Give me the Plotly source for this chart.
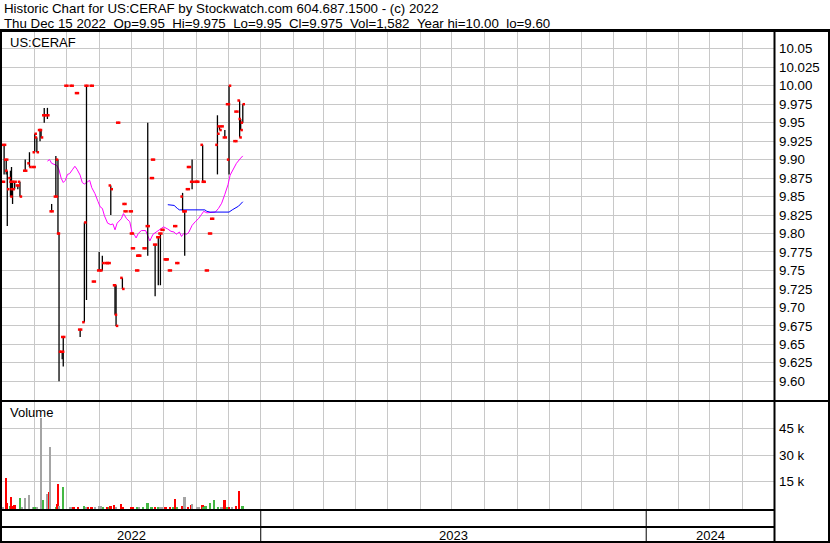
import plotly.graph_objects as go
import pandas as pd

# ---------------- data ----------------
dates = ["2022-05-02","2022-05-03","2022-05-05","2022-05-06","2022-05-09","2022-05-10","2022-05-11","2022-05-13",
         "2022-05-16","2022-05-18","2022-05-23","2022-05-27","2022-05-31","2022-06-01","2022-06-03","2022-06-06",
         "2022-06-07","2022-06-10","2022-06-13","2022-06-17","2022-06-21","2022-06-23","2022-06-24","2022-06-27",
         "2022-06-28","2022-07-01","2022-07-06","2022-07-11","2022-07-14","2022-07-18","2022-07-20","2022-07-25",
         "2022-07-27","2022-08-01","2022-08-04","2022-08-08","2022-08-10","2022-08-12","2022-08-16","2022-08-17",
         "2022-08-19","2022-08-23","2022-08-25","2022-08-26","2022-08-31","2022-09-01","2022-09-02","2022-09-06",
         "2022-09-07","2022-09-08","2022-09-13","2022-09-16","2022-09-20","2022-09-21","2022-09-23","2022-09-26",
         "2022-09-28","2022-09-30","2022-10-03","2022-10-04","2022-10-07","2022-10-12","2022-10-14","2022-10-19",
         "2022-10-21","2022-10-24","2022-10-25","2022-10-28","2022-11-01","2022-11-02","2022-11-07","2022-11-08",
         "2022-11-11","2022-11-14","2022-11-16","2022-11-21","2022-11-23","2022-11-25","2022-11-28","2022-12-01",
         "2022-12-02","2022-12-08","2022-12-09","2022-12-12","2022-12-13","2022-12-15"]
opens  = [9.87,9.92,9.90,9.885,9.875,9.87,9.86,9.86,9.865,9.87,9.885,9.895,9.89,9.91,9.93,9.94,
          9.94,9.96,9.96,9.83,9.85,9.90,9.80,9.64,9.66,10.00,10.00,9.99,9.67,9.68,10.00,10.00,
          9.735,9.75,9.75,9.76,9.76,9.865,9.73,9.73,9.95,9.74,9.84,9.83,9.83,9.80,9.78,9.75,
          9.77,9.77,9.78,9.81,9.875,9.90,9.785,9.795,9.80,9.805,9.765,9.765,9.75,9.81,9.76,9.85,
          9.83,9.86,9.89,9.87,9.87,9.87,9.92,9.87,9.75,9.80,9.82,9.92,9.945,9.945,9.93,9.975,
          9.90,9.925,9.965,9.98,9.955,9.95]
highs  = [9.87,9.92,9.90,9.885,9.885,9.89,9.87,9.87,9.865,9.87,9.90,9.91,9.89,9.935,9.93,9.94,
          9.94,9.97,9.97,9.84,9.905,9.90,9.80,9.64,9.66,10.00,10.00,9.99,9.67,9.815,10.00,10.00,
          9.735,9.775,9.77,9.76,9.76,9.865,9.73,9.73,9.95,9.74,9.84,9.83,9.83,9.80,9.78,9.75,
          9.77,9.77,9.78,9.95,9.875,9.90,9.785,9.795,9.80,9.805,9.765,9.765,9.75,9.81,9.76,9.855,
          9.83,9.86,9.89,9.90,9.87,9.87,9.92,9.87,9.75,9.80,9.82,9.96,9.945,9.945,9.94,9.975,
          10.00,9.925,9.965,9.98,9.955,9.975]
lows   = [9.87,9.88,9.88,9.81,9.85,9.85,9.84,9.86,9.86,9.85,9.885,9.89,9.89,9.91,9.91,9.925,
          9.93,9.95,9.955,9.83,9.85,9.80,9.60,9.63,9.62,10.00,10.00,9.99,9.66,9.68,9.71,10.00,
          9.735,9.75,9.75,9.76,9.76,9.825,9.69,9.675,9.95,9.725,9.84,9.83,9.83,9.80,9.78,9.75,
          9.77,9.77,9.78,9.77,9.875,9.90,9.715,9.73,9.73,9.805,9.765,9.765,9.75,9.81,9.76,9.83,
          9.77,9.86,9.89,9.86,9.87,9.87,9.87,9.87,9.75,9.80,9.82,9.88,9.94,9.945,9.93,9.975,
          9.88,9.925,9.965,9.93,9.94,9.95]
closes = [9.87,9.92,9.90,9.86,9.85,9.87,9.87,9.87,9.865,9.85,9.885,9.89,9.89,9.935,9.91,9.94,
          9.93,9.96,9.96,9.83,9.85,9.80,9.64,9.64,9.66,10.00,10.00,9.99,9.67,9.815,10.00,10.00,
          9.735,9.75,9.76,9.76,9.76,9.86,9.69,9.675,9.95,9.725,9.84,9.83,9.83,9.80,9.78,9.75,
          9.77,9.77,9.78,9.81,9.875,9.90,9.785,9.795,9.80,9.805,9.765,9.765,9.75,9.81,9.76,9.83,
          9.83,9.86,9.89,9.87,9.87,9.87,9.87,9.87,9.75,9.80,9.82,9.935,9.94,9.945,9.93,9.975,
          10.00,9.925,9.965,9.93,9.94,9.975]

vol_dates = ["2022-05-02","2022-05-05","2022-05-06","2022-05-09","2022-05-10","2022-05-12","2022-05-13","2022-05-18",
             "2022-05-20","2022-05-23","2022-05-27","2022-05-31","2022-06-01","2022-06-03","2022-06-07","2022-06-09",
             "2022-06-13","2022-06-15","2022-06-16","2022-06-21","2022-06-22","2022-06-23","2022-06-24","2022-06-28",
             "2022-07-05","2022-07-07","2022-07-08","2022-07-12","2022-07-18","2022-07-20","2022-07-22","2022-07-25",
             "2022-07-28","2022-08-01","2022-08-03","2022-08-05","2022-08-09","2022-08-11","2022-08-12","2022-08-15",
             "2022-08-17","2022-08-22","2022-08-24","2022-08-31","2022-09-02","2022-09-06","2022-09-08","2022-09-12",
             "2022-09-16","2022-09-19","2022-09-20","2022-09-23","2022-09-26","2022-09-28","2022-09-30","2022-10-03",
             "2022-10-07","2022-10-10","2022-10-12","2022-10-14","2022-10-19","2022-10-21","2022-10-24","2022-10-27",
             "2022-10-28","2022-11-02","2022-11-04","2022-11-07","2022-11-08","2022-11-10","2022-11-14","2022-11-18",
             "2022-11-22","2022-11-25","2022-11-28","2022-11-30","2022-12-02","2022-12-05","2022-12-09","2022-12-12",
             "2022-12-15"]
volumes = [1000,17300,2900,1400,6500,1400,2000,5900,
           600,5900,7600,600,1000,600,50600,4800,
           8100,9300,34700,1000,2500,13700,1400,12100,
           600,600,600,1000,1400,600,600,600,
           600,1400,1400,600,600,1000,1400,2000,
           600,2500,600,1000,600,600,600,600,
           3100,600,600,600,1000,1000,600,600,
           600,1000,5300,600,1400,6500,600,2000,
           2500,1000,1000,2000,1000,1400,3100,4800,
           1000,600,4800,600,600,600,1400,9800,
           1582]
vol_change = ["flat","down","down","up","down","down","down","up",
              "flat","flat","flat","flat","up","flat","flat","up",
              "flat","down","flat","up","down","down","flat","up",
              "flat","flat","down","down","up","flat","down","down",
              "flat","flat","flat","up","down","up","down","down",
              "flat","down","down","down","down","up","flat","up",
              "up","up","up","down","up","flat","flat","down",
              "down","up","down","up","down","flat","down","down",
              "flat","flat","flat","down","up","up","up","up",
              "up","flat","down","up","down","flat","down","down",
              "up"]

ma_dates = ["2022-06-13","2022-06-15","2022-06-17","2022-06-20","2022-06-22","2022-06-24","2022-06-26","2022-06-28",
            "2022-06-30","2022-07-02","2022-07-04","2022-07-07","2022-07-09","2022-07-11","2022-07-14","2022-07-16",
            "2022-07-18","2022-07-21","2022-07-23","2022-07-25","2022-07-28","2022-07-31","2022-08-02","2022-08-04",
            "2022-08-06","2022-08-09","2022-08-12","2022-08-14","2022-08-16","2022-08-18","2022-08-22","2022-08-24",
            "2022-08-27","2022-08-30","2022-09-01","2022-09-03","2022-09-05","2022-09-07","2022-09-10","2022-09-14",
            "2022-09-16","2022-09-18","2022-09-21","2022-09-24","2022-09-28","2022-10-01","2022-10-05","2022-10-08",
            "2022-10-11","2022-10-13","2022-10-16","2022-10-18","2022-10-20","2022-10-23","2022-10-25","2022-10-28",
            "2022-10-31","2022-11-03","2022-11-06","2022-11-08","2022-11-11","2022-11-16","2022-11-19","2022-11-22",
            "2022-11-25","2022-11-28","2022-12-01","2022-12-03","2022-12-06","2022-12-09","2022-12-13","2022-12-15"]
ma_values = [9.898,9.900,9.895,9.893,9.892,9.886,9.875,9.869,
             9.872,9.880,9.881,9.887,9.891,9.887,9.879,9.869,
             9.867,9.870,9.872,9.862,9.854,9.843,9.836,9.834,
             9.824,9.814,9.812,9.813,9.805,9.814,9.820,9.827,
             9.820,9.816,9.802,9.799,9.794,9.800,9.804,9.804,
             9.798,9.790,9.799,9.802,9.807,9.809,9.806,9.803,
             9.802,9.799,9.802,9.796,9.800,9.799,9.802,9.811,
             9.816,9.820,9.826,9.830,9.828,9.828,9.829,9.834,
             9.841,9.853,9.866,9.879,9.888,9.895,9.902,9.905]

ma_long_dates = ["2022-10-05","2022-10-08","2022-10-11","2022-10-14","2022-10-16","2022-11-09","2022-11-11",
                 "2022-11-14","2022-12-02","2022-12-05","2022-12-08","2022-12-11","2022-12-15"]
ma_long_values = [9.839,9.839,9.838,9.834,9.832,9.832,9.830,
                  9.829,9.829,9.832,9.834,9.837,9.843]

price_ticks = [10.05,10.025,10.00,9.975,9.95,9.925,9.90,9.875,9.85,9.825,9.80,9.775,9.75,9.725,9.70,9.675,9.65,9.625,9.60]
price_tick_labels = ["10.05","10.025","10.00","9.975","9.95","9.925","9.90","9.875","9.85","9.825","9.80",
                     "9.775","9.75","9.725","9.70","9.675","9.65","9.625","9.60"]
vol_ticks = [15000, 30000, 45000]
vol_tick_labels = ["15 k", "30 k", "45 k"]

year_labels = ["2022", "2023", "2024"]
year_bounds = ["2022-05-01", "2023-01-01", "2024-01-01", "2024-05-01"]

title_line1 = "Historic Chart for US:CERAF by Stockwatch.com 604.687.1500 - (c) 2022"
title_line2 = "Thu Dec 15 2022  Op=9.95  Hi=9.975  Lo=9.95  Cl=9.975  Vol=1,582  Year hi=10.00  lo=9.60"

# ---------------- figure ----------------
W, H = 830, 543
FONT = "Liberation Sans, Arial, sans-serif"
FS = 13.3

def px(x):
    return x / W

def py(y):
    return 1 - y / H

dt = pd.to_datetime(dates)
tick_off = pd.Timedelta(hours=22)

seg_x, seg_y = [], []
for d, lo, hi in zip(dt, lows, highs):
    seg_x += [d, d, None]
    seg_y += [lo, hi, None]

fig = go.Figure()
fig.add_trace(go.Scatter(x=pd.to_datetime(ma_dates), y=ma_values, mode="lines",
                         line=dict(color="#ff00ff", width=1), xaxis="x", yaxis="y", hoverinfo="skip"))
fig.add_trace(go.Scatter(x=pd.to_datetime(ma_long_dates), y=ma_long_values, mode="lines",
                         line=dict(color="#0000ff", width=1), xaxis="x", yaxis="y", hoverinfo="skip"))
fig.add_trace(go.Scatter(x=seg_x, y=seg_y, mode="lines", line=dict(color="black", width=1.3),
                         xaxis="x", yaxis="y", hoverinfo="skip"))
fig.add_trace(go.Scatter(x=dt - tick_off, y=opens, mode="markers",
                         marker=dict(symbol="square", size=2.5, color="#ff0000", line=dict(width=0)),
                         xaxis="x", yaxis="y"))
fig.add_trace(go.Scatter(x=dt + tick_off, y=closes, mode="markers",
                         marker=dict(symbol="square", size=2.5, color="#ff0000", line=dict(width=0)),
                         xaxis="x", yaxis="y"))

change_colors = {"up": "#44b844", "down": "#ff0000", "flat": "#a4a4a4"}
fig.add_trace(go.Bar(x=pd.to_datetime(vol_dates), y=volumes,
                     marker=dict(color=[change_colors[c] for c in vol_change], line=dict(width=0)),
                     width=1.6 * 86400000, xaxis="x2", yaxis="y2"))

grid = "#c8c8c8"
x_dom = [px(2), px(774)]
xcommon = dict(type="date", range=[year_bounds[0], year_bounds[-1]], domain=x_dom, showgrid=True,
               gridcolor=grid, gridwidth=1, dtick="M1", tick0=year_bounds[0], showticklabels=False,
               ticks="", zeroline=False, showline=False)

fig.update_layout(
    width=W, height=H, margin=dict(l=0, r=0, t=0, b=0),
    paper_bgcolor="white", plot_bgcolor="white", showlegend=False, bargap=0,
    xaxis=dict(**xcommon, anchor="y"),
    xaxis2=dict(**xcommon, anchor="y2", matches="x"),
    yaxis=dict(domain=[py(400), py(32)], range=[9.5747, 10.0727], side="right", anchor="x",
               tickvals=price_ticks, ticktext=price_tick_labels, showgrid=True, gridcolor=grid,
               gridwidth=1, ticks="", zeroline=False, showline=False, ticklabelstandoff=4,
               tickfont=dict(family=FONT, size=FS, color="#000000")),
    yaxis2=dict(domain=[py(509), py(402)], range=[-280, 59760], side="right", anchor="x2",
                tickvals=vol_ticks, ticktext=vol_tick_labels, showgrid=True, gridcolor=grid,
                gridwidth=1, ticks="", zeroline=False, showline=False, ticklabelstandoff=4,
                tickfont=dict(family=FONT, size=FS, color="#000000")),
)

shapes = []
def hline(y, x0, x1, w=2):
    shapes.append(dict(type="line", xref="paper", yref="paper", x0=px(x0), x1=px(x1), y0=py(y), y1=py(y),
                       line=dict(color="black", width=w), layer="above"))
def vline(x, y0, y1, w=2):
    shapes.append(dict(type="line", xref="paper", yref="paper", x0=px(x), x1=px(x), y0=py(y0), y1=py(y1),
                       line=dict(color="black", width=w), layer="above"))

hline(30.5, 0, 830, 3)
hline(401, 0, 830, 2)
hline(510, 0, 774, 2)
hline(527, 0, 774, 2)
hline(542, 0, 830, 2)
vline(1, 30, 543, 2)
vline(829, 30, 543, 2)
vline(774.5, 30, 543, 2)
for b in year_bounds[1:-1]:
    shapes.append(dict(type="line", xref="x", yref="paper", x0=b, x1=b, y0=py(510), y1=py(542),
                       line=dict(color="black", width=1), layer="above"))
fig.update_layout(shapes=shapes)

ann = []
ann.append(dict(text=title_line1.replace(" ", "\u00a0"), x=px(2), y=py(9), xref="paper", yref="paper",
                xanchor="left", yanchor="middle", showarrow=False,
                font=dict(family=FONT, size=FS, color="#000000")))
ann.append(dict(text=title_line2.replace(" ", "\u00a0"), x=px(2), y=py(23), xref="paper", yref="paper",
                xanchor="left", yanchor="middle", showarrow=False,
                font=dict(family=FONT, size=FS, color="#000000")))
ann.append(dict(text="US:CERAF", x=px(8), y=py(42), xref="paper", yref="paper", xanchor="left",
                yanchor="middle", showarrow=False, font=dict(family=FONT, size=13, color="#000000")))
ann.append(dict(text="Volume", x=px(8), y=py(413), xref="paper", yref="paper", xanchor="left",
                yanchor="middle", showarrow=False, font=dict(family=FONT, size=13, color="#000000")))
bounds = pd.to_datetime(year_bounds)
for i, lab in enumerate(year_labels):
    mid = bounds[i] + (bounds[i + 1] - bounds[i]) / 2
    ann.append(dict(text=lab, x=mid, y=py(535), xref="x", yref="paper", xanchor="center", yanchor="middle",
                    showarrow=False, font=dict(family=FONT, size=13, color="#000000")))
fig.update_layout(annotations=ann)

fig.write_html("out.html", config={"displayModeBar": False},
               post_script="document.body.style.margin='0';document.body.style.padding='0';"
                           "document.documentElement.style.overflow='hidden';")
